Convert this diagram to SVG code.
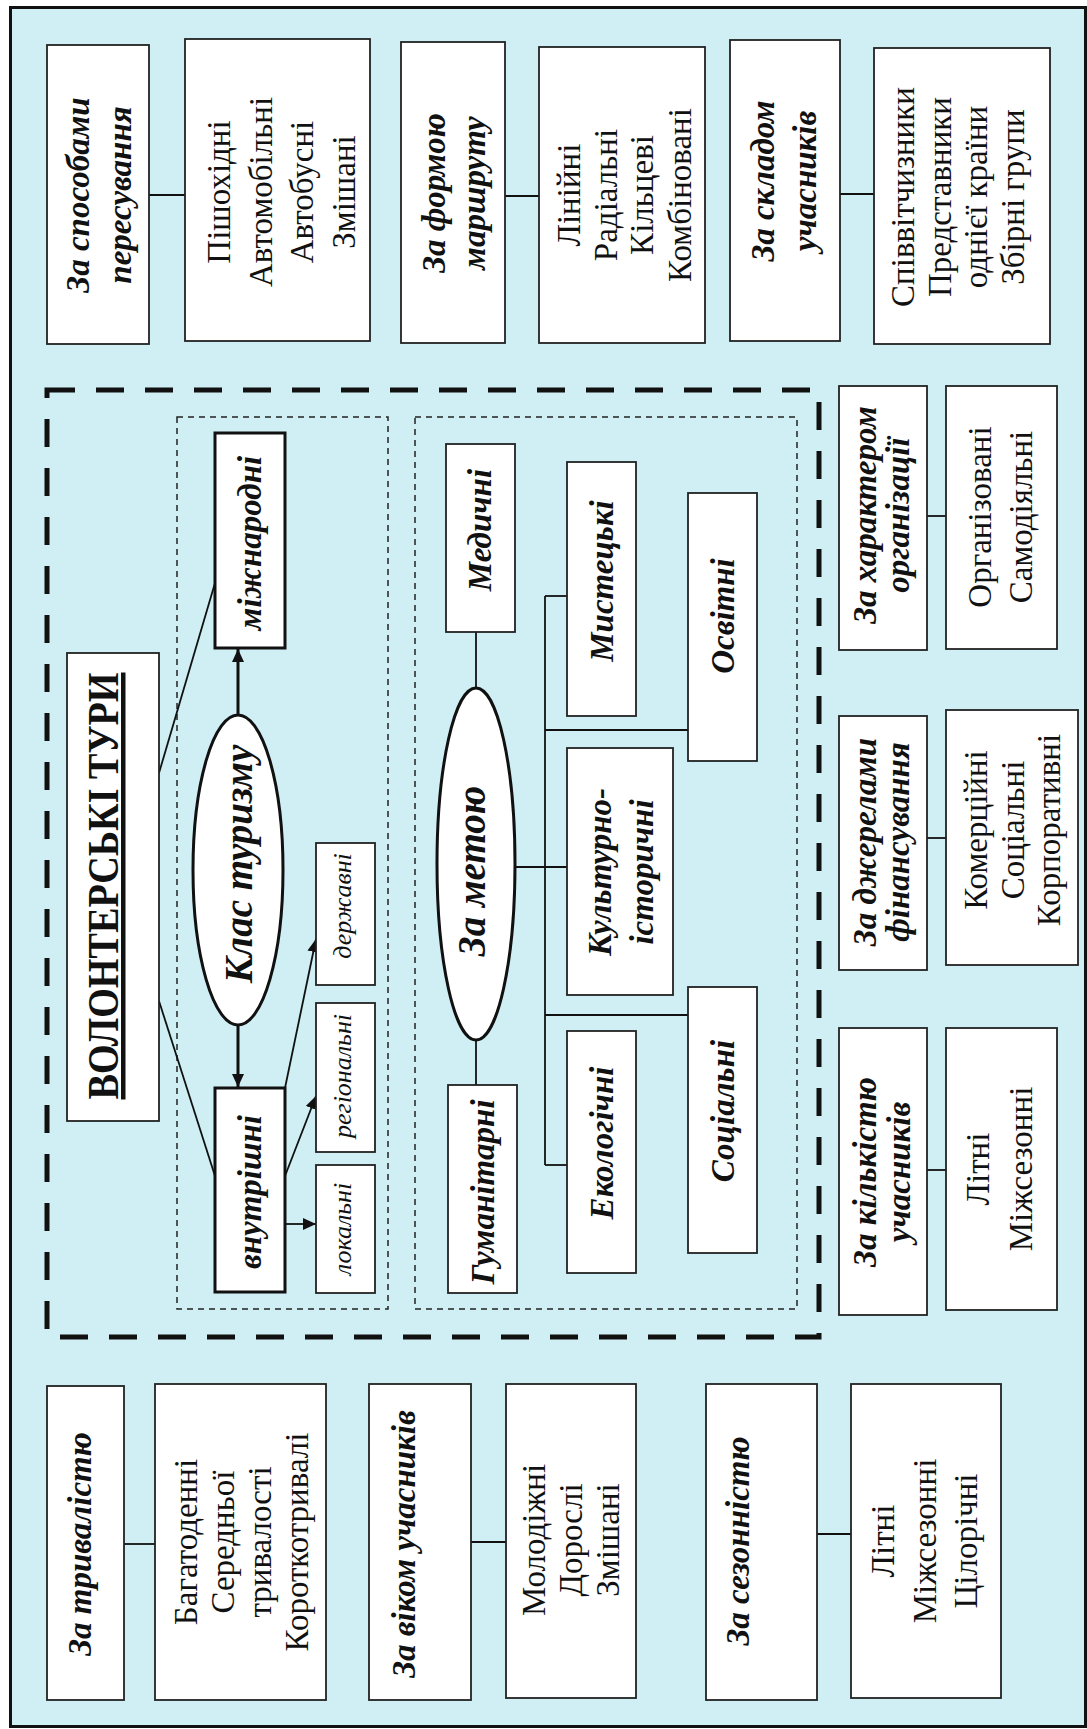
<svg xmlns="http://www.w3.org/2000/svg" width="1087" height="1729" viewBox="0 0 1087 1729">
<style>
.box{fill:#fff;stroke:#222;stroke-width:1.8}
.tbox{fill:#fff;stroke:#111;stroke-width:3}
.ell{fill:#fff;stroke:#111;stroke-width:3}
.ln{stroke:#111;stroke-width:1.8;fill:none}
.tk{stroke:#111;stroke-width:3;fill:none}
.bi{font-family:"Liberation Serif","Times New Roman",serif;font-weight:bold;font-style:italic;font-size:33px;fill:#111}
.rg{font-family:"Liberation Serif","Times New Roman",serif;font-size:33px;fill:#111}
.it{font-family:"Liberation Serif","Times New Roman",serif;font-style:italic;font-size:26px;fill:#111}
.big{font-family:"Liberation Serif","Times New Roman",serif;font-weight:bold;font-style:italic;font-size:39px;fill:#111}
.ttl{font-family:"Liberation Serif","Times New Roman",serif;font-weight:bold;font-size:45px;fill:#111}
</style>
<defs>
<marker id="ah" markerUnits="userSpaceOnUse" markerWidth="14" markerHeight="12" refX="13" refY="6" orient="auto">
<path d="M0,0 L13,6 L0,12 z" fill="#111"/>
</marker>
</defs>
<rect x="0" y="0" width="1087" height="1729" fill="#fff"/>
<rect x="10.5" y="7.5" width="1075" height="1719" fill="#CFEFF4" stroke="#111" stroke-width="3"/>

<!-- dashed frames -->
<g id="frames">
<rect x="47" y="390" width="772" height="947" fill="none" stroke="#111" stroke-width="5" stroke-dasharray="28,21"/>
<rect x="177" y="417" width="211" height="892" fill="none" stroke="#222" stroke-width="1.5" stroke-dasharray="6,5"/>
<rect x="415" y="417" width="382" height="892" fill="none" stroke="#222" stroke-width="1.5" stroke-dasharray="6,5"/>
</g>

<!-- connectors -->
<g id="connectors">
<line class="ln" x1="149" y1="195" x2="185" y2="195"/>
<line class="ln" x1="505" y1="196" x2="539" y2="196"/>
<line class="ln" x1="840" y1="194" x2="874" y2="194"/>
<line class="ln" x1="927" y1="516" x2="946" y2="516"/>
<line class="ln" x1="927" y1="838" x2="946" y2="838"/>
<line class="ln" x1="927" y1="1170" x2="946" y2="1170"/>
<line class="ln" x1="124" y1="1544" x2="155" y2="1544"/>
<line class="ln" x1="471" y1="1542" x2="506" y2="1542"/>
<line class="ln" x1="817" y1="1534" x2="851" y2="1534"/>
<line class="ln" x1="159" y1="773" x2="215" y2="583"/>
<line class="ln" x1="159" y1="1001" x2="215" y2="1176"/>
<line class="tk" x1="238" y1="715" x2="238" y2="649" marker-end="url(#ah)"/>
<line class="tk" x1="238" y1="1026" x2="238" y2="1087" marker-end="url(#ah)"/>
<line class="ln" x1="285" y1="1088" x2="316" y2="939" marker-end="url(#ah)"/>
<line class="ln" x1="285" y1="1176" x2="316" y2="1096" marker-end="url(#ah)"/>
<line class="ln" x1="285" y1="1224" x2="316" y2="1224" marker-end="url(#ah)"/>
<line class="ln" x1="476" y1="632" x2="476" y2="688"/>
<line class="ln" x1="476" y1="1040" x2="476" y2="1085"/>
<line class="ln" x1="515" y1="867" x2="567" y2="867"/>
<line class="ln" x1="545" y1="596" x2="545" y2="1165"/>
<line class="ln" x1="545" y1="596" x2="567" y2="596"/>
<line class="ln" x1="545" y1="730" x2="688" y2="730"/>
<line class="ln" x1="545" y1="1015" x2="688" y2="1015"/>
<line class="ln" x1="545" y1="1165" x2="567" y2="1165"/>
</g>

<!-- top row -->
<g id="n-sposoby">
<rect class="box" x="47" y="45" width="102" height="299"/>
<text class="bi" text-anchor="middle" transform="translate(89,195) rotate(-90)"><tspan x="0" y="0">За способами</tspan><tspan x="0" y="42">пересування</tspan></text>
</g>
<g id="n-sposoby-list">
<rect class="box" x="185" y="39" width="185" height="302"/>
<text class="rg" text-anchor="middle" transform="translate(230,192) rotate(-90)"><tspan x="0" y="0">Пішохідні</tspan><tspan x="0" y="42">Автомобільні</tspan><tspan x="0" y="83">Автобусні</tspan><tspan x="0" y="125">Змішані</tspan></text>
</g>
<g id="n-forma">
<rect class="box" x="401" y="42" width="104" height="301"/>
<text class="bi" text-anchor="middle" transform="translate(445,193) rotate(-90)"><tspan x="0" y="0">За формою</tspan><tspan x="0" y="40">маршруту</tspan></text>
</g>
<g id="n-forma-list">
<rect class="box" x="539" y="47" width="166" height="296"/>
<text class="rg" text-anchor="middle" transform="translate(580,195) rotate(-90)"><tspan x="0" y="0">Лінійні</tspan><tspan x="0" y="37">Радіальні</tspan><tspan x="0" y="73">Кільцеві</tspan><tspan x="0" y="111">Комбіновані</tspan></text>
</g>
<g id="n-sklad">
<rect class="box" x="730" y="40" width="110" height="301"/>
<text class="bi" text-anchor="middle" transform="translate(774,181) rotate(-90)"><tspan x="0" y="0">За складом</tspan><tspan x="0" y="42">учасників</tspan></text>
</g>
<g id="n-sklad-list">
<rect class="box" x="874" y="48" width="176" height="296"/>
<text class="rg" text-anchor="middle" transform="translate(914,197) rotate(-90)"><tspan x="0" y="0">Співвітчизники</tspan><tspan x="0" y="37">Представники</tspan><tspan x="0" y="73">однієї країни</tspan><tspan x="0" y="110">Збірні групи</tspan></text>
</g>

<!-- central group -->
<g id="n-title">
<rect class="box" x="67" y="653" width="92" height="468"/>
<text class="ttl" text-anchor="middle" text-decoration="underline" textLength="427" lengthAdjust="spacingAndGlyphs" transform="translate(118,886) rotate(-90)">ВОЛОНТЕРСЬКІ ТУРИ</text>
</g>
<g id="n-mizhnarodni">
<rect class="tbox" x="215" y="433" width="70" height="215"/>
<text class="bi" text-anchor="middle" transform="translate(261,543) rotate(-90)">міжнародні</text>
</g>
<g id="n-klas">
<ellipse class="ell" cx="238" cy="870" rx="45" ry="155"/>
<text class="big" text-anchor="middle" transform="translate(252,864) rotate(-90)">Клас туризму</text>
</g>
<g id="n-vnutrishni">
<rect class="tbox" x="215" y="1088" width="70" height="204"/>
<text class="bi" text-anchor="middle" transform="translate(261,1192) rotate(-90)">внутрішні</text>
</g>
<g id="n-derzhavni">
<rect class="box" x="316" y="843" width="59" height="142"/>
<text class="it" text-anchor="middle" transform="translate(351,906) rotate(-90)">державні</text>
</g>
<g id="n-regionalni">
<rect class="box" x="316" y="1003" width="59" height="149"/>
<text class="it" text-anchor="middle" transform="translate(351,1076) rotate(-90)">регіональні</text>
</g>
<g id="n-lokalni">
<rect class="box" x="316" y="1165" width="59" height="128"/>
<text class="it" text-anchor="middle" transform="translate(351,1229) rotate(-90)">локальні</text>
</g>

<g id="n-medychni">
<rect class="box" x="446" y="444" width="69" height="188"/>
<text class="bi" text-anchor="middle" transform="translate(491,530) rotate(-90)">Медичні</text>
</g>
<g id="n-metoiu">
<ellipse class="ell" cx="476" cy="864" rx="39" ry="176"/>
<text class="big" text-anchor="middle" transform="translate(485,871) rotate(-90)">За метою</text>
</g>
<g id="n-humanitarni">
<rect class="box" x="448" y="1085" width="69" height="208"/>
<text class="bi" text-anchor="middle" transform="translate(494,1192) rotate(-90)">Гуманітарні</text>
</g>
<g id="n-mystetski">
<rect class="box" x="567" y="462" width="69" height="254"/>
<text class="bi" text-anchor="middle" transform="translate(613,581) rotate(-90)">Мистецькі</text>
</g>
<g id="n-osvitni">
<rect class="box" x="688" y="493" width="69" height="268"/>
<text class="bi" text-anchor="middle" transform="translate(734,616) rotate(-90)">Освітні</text>
</g>
<g id="n-kulturno">
<rect class="box" x="567" y="748" width="106" height="247"/>
<text class="bi" text-anchor="middle" transform="translate(611,872) rotate(-90)"><tspan x="0" y="0">Культурно-</tspan><tspan x="0" y="42">історичні</tspan></text>
</g>
<g id="n-sotsialni">
<rect class="box" x="688" y="987" width="69" height="266"/>
<text class="bi" text-anchor="middle" transform="translate(734,1111) rotate(-90)">Соціальні</text>
</g>
<g id="n-ekolohichni">
<rect class="box" x="567" y="1031" width="69" height="242"/>
<text class="bi" text-anchor="middle" transform="translate(613,1143) rotate(-90)">Екологічні</text>
</g>

<!-- right column -->
<g id="n-kharakter">
<rect class="box" x="839" y="386" width="88" height="264"/>
<text class="bi" text-anchor="middle" transform="translate(876,515) rotate(-90)"><tspan x="0" y="0">За характером</tspan><tspan x="0" y="33">організації</tspan></text>
</g>
<g id="n-kharakter-list">
<rect class="box" x="946" y="386" width="111" height="263"/>
<text class="rg" text-anchor="middle" transform="translate(991,517) rotate(-90)"><tspan x="0" y="0">Організовані</tspan><tspan x="0" y="41">Самодіяльні</tspan></text>
</g>
<g id="n-dzherela">
<rect class="box" x="839" y="716" width="88" height="254"/>
<text class="bi" text-anchor="middle" transform="translate(876,842) rotate(-90)"><tspan x="0" y="0">За джерелами</tspan><tspan x="0" y="33">фінансування</tspan></text>
</g>
<g id="n-dzherela-list">
<rect class="box" x="946" y="710" width="132" height="255"/>
<text class="rg" text-anchor="middle" transform="translate(987,830) rotate(-90)"><tspan x="0" y="0">Комерційні</tspan><tspan x="0" y="36.5">Соціальні</tspan><tspan x="0" y="73">Корпоративні</tspan></text>
</g>
<g id="n-kilkist">
<rect class="box" x="839" y="1028" width="88" height="287"/>
<text class="bi" text-anchor="middle" transform="translate(876,1172) rotate(-90)"><tspan x="0" y="0">За кількістю</tspan><tspan x="0" y="34">учасників</tspan></text>
</g>
<g id="n-kilkist-list">
<rect class="box" x="946" y="1028" width="111" height="282"/>
<text class="rg" text-anchor="middle" transform="translate(989,1169) rotate(-90)"><tspan x="0" y="0">Літні</tspan><tspan x="0" y="43">Міжсезонні</tspan></text>
</g>

<!-- bottom row -->
<g id="n-tryvalist">
<rect class="box" x="47" y="1386" width="77" height="314"/>
<text class="bi" text-anchor="middle" transform="translate(91,1544) rotate(-90)">За тривалістю</text>
</g>
<g id="n-tryvalist-list">
<rect class="box" x="155" y="1384" width="171" height="316"/>
<text class="rg" text-anchor="middle" transform="translate(197,1542) rotate(-90)"><tspan x="0" y="0">Багатоденні</tspan><tspan x="0" y="37">Середньої</tspan><tspan x="0" y="74">тривалості</tspan><tspan x="0" y="111">Короткотривалі</tspan></text>
</g>
<g id="n-vik">
<rect class="box" x="369" y="1384" width="102" height="316"/>
<text class="bi" text-anchor="middle" transform="translate(415,1544) rotate(-90)">За віком учасників</text>
</g>
<g id="n-vik-list">
<rect class="box" x="506" y="1384" width="130" height="314"/>
<text class="rg" text-anchor="middle" transform="translate(545,1540) rotate(-90)"><tspan x="0" y="0">Молодіжні</tspan><tspan x="0" y="37">Дорослі</tspan><tspan x="0" y="74">Змішані</tspan></text>
</g>
<g id="n-sezon">
<rect class="box" x="706" y="1384" width="111" height="316"/>
<text class="bi" text-anchor="middle" transform="translate(749,1541) rotate(-90)">За сезонністю</text>
</g>
<g id="n-sezon-list">
<rect class="box" x="851" y="1384" width="150" height="314"/>
<text class="rg" text-anchor="middle" transform="translate(894,1541) rotate(-90)"><tspan x="0" y="0">Літні</tspan><tspan x="0" y="42">Міжсезонні</tspan><tspan x="0" y="83">Цілорічні</tspan></text>
</g>
</svg>
